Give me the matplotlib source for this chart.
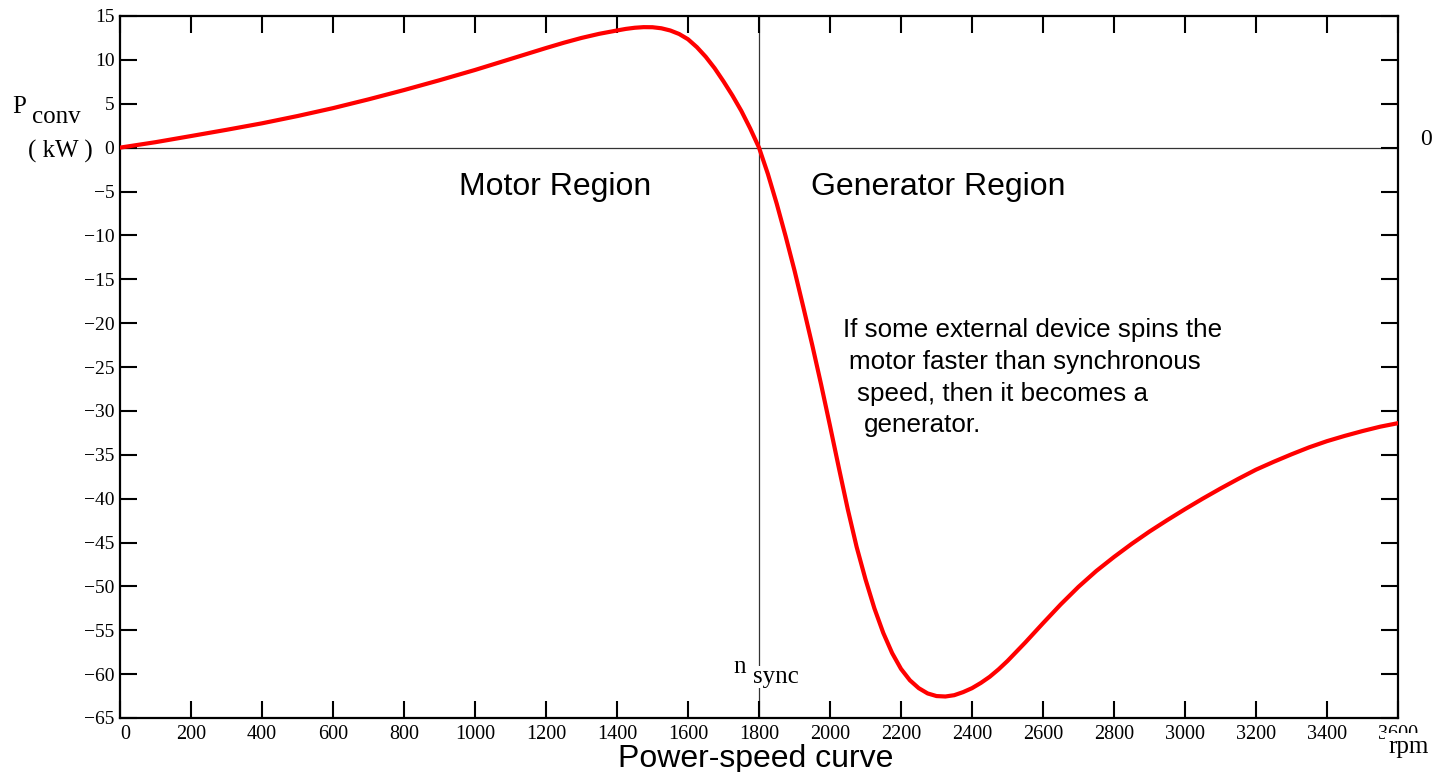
import matplotlib
matplotlib.use("Agg")
import matplotlib.pyplot as plt

# ---- data ----
speed_rpm = [0, 100, 200, 300, 400, 500, 600, 700, 800, 900, 1000, 1100, 1200,
             1250, 1300, 1350, 1400, 1425, 1450, 1475, 1500, 1525, 1550, 1575,
             1600, 1625, 1650, 1675, 1700, 1725, 1750, 1775, 1800, 1825, 1850,
             1875, 1900, 1925, 1950, 1975, 2000, 2025, 2050, 2075, 2100, 2125,
             2150, 2175, 2200, 2225, 2250, 2275, 2300, 2325, 2350, 2375, 2400,
             2425, 2450, 2475, 2500, 2550, 2600, 2650, 2700, 2750, 2800, 2850,
             2900, 2950, 3000, 3050, 3100, 3150, 3200, 3250, 3300, 3350, 3400,
             3450, 3500, 3550, 3600]
p_conv_kw = [0.0, 0.62, 1.32, 2.03, 2.77, 3.6, 4.5, 5.5, 6.56, 7.68, 8.85, 10.1,
             11.35, 11.95, 12.5, 12.97, 13.35, 13.53, 13.66, 13.73, 13.72, 13.6,
             13.35, 12.95, 12.35, 11.45, 10.35, 9.05, 7.55, 5.95, 4.2, 2.2, 0.0,
             -3.0, -6.4, -10.1, -14.0, -18.2, -22.5, -27.0, -31.7, -36.5, -41.2,
             -45.5, -49.2, -52.5, -55.3, -57.6, -59.4, -60.7, -61.6, -62.2, -62.5,
             -62.55, -62.4, -62.05, -61.6, -61.0, -60.3, -59.45, -58.5, -56.4,
             -54.2, -52.05, -50.05, -48.25, -46.65, -45.15, -43.75, -42.45, -41.2,
             -40.0, -38.85, -37.75, -36.7, -35.8, -34.95, -34.15, -33.45, -32.85,
             -32.3, -31.8, -31.4]

x_ticks = list(range(0, 3601, 200))
y_ticks = list(range(-65, 16, 5))
x_tick_labels = [str(v) for v in x_ticks]
y_tick_labels = [str(v).replace("-", "\u2212") for v in y_ticks]
n_sync = 1800

W, H = 1445, 772
SERIF = ["Liberation Serif", "DejaVu Serif"]
SANS = ["Liberation Sans", "DejaVu Sans"]


def fx(x):
    return x / W


def fy(y):
    return 1 - y / H


fig = plt.figure(figsize=(W / 100, H / 100), dpi=100)
ax = fig.add_axes([fx(120), fy(718), (1398 - 120) / W, (718 - 16) / H])

ax.set_xlim(0, 3600)
ax.set_ylim(-65, 15)

ax.axhline(0, color="#333333", lw=0.9, zorder=1)
ax.axvline(n_sync, color="#333333", lw=0.9, zorder=1)
ax.plot(speed_rpm, p_conv_kw, color="#ff0000", lw=3.0, zorder=3,
        solid_capstyle="round", solid_joinstyle="round")

ax.set_xticks(x_ticks)
ax.set_xticklabels(x_tick_labels, family=SERIF, fontsize=14.5)
ax.set_yticks(y_ticks)
ax.set_yticklabels(y_tick_labels, family=SERIF, fontsize=14)
ax.tick_params(axis="both", which="both", direction="in", length=12, width=1.5,
               top=True, right=True, color="black")
ax.tick_params(axis="x", pad=5)
ax.tick_params(axis="y", pad=4)
ax.get_xticklabels()[0].set_ha("left")
for s in ax.spines.values():
    s.set_linewidth(1.6)
    s.set_color("black")

# y-axis label pieces
fig.text(fx(12), fy(113), "P", family=SERIF, fontsize=18, va="baseline")
fig.text(fx(32), fy(123), "conv", family=SERIF, fontsize=18, va="baseline")
fig.text(fx(28), fy(158), "( kW )", family=SERIF, fontsize=18, va="baseline")

# right-side zero label
fig.text(fx(1420), fy(145), "0", family=SERIF, fontsize=17, va="baseline")

# n_sync label
fig.text(fx(733), fy(673), "n", family=SERIF, fontsize=18, va="baseline")
fig.text(fx(753), fy(683), "sync", family=SERIF, fontsize=18, va="baseline",
         bbox=dict(facecolor="white", edgecolor="none", pad=0), zorder=5)

# rpm unit label (covers the lower part of the last tick label, as in the reference)
fig.text(fx(1388), fy(753), "rpm", family=SERIF, fontsize=18, va="baseline",
         bbox=dict(facecolor="white", edgecolor="none", pad=2), zorder=5)

# region labels
fig.text(fx(459), fy(195), "Motor Region", family=SANS, fontsize=23, va="baseline")
fig.text(fx(811), fy(195), "Generator Region", family=SANS, fontsize=23, va="baseline")

# annotation
note_lines = ["If some external device spins the",
              "motor faster than synchronous",
              "speed, then it becomes a",
              "generator."]
note_x = [843, 849, 857, 864]
note_y = [337, 369, 401, 432]
for t, x, y in zip(note_lines, note_x, note_y):
    fig.text(fx(x), fy(y), t, family=SANS, fontsize=18.7, va="baseline")

# caption
fig.text(fx(756), fy(767), "Power-speed curve", family=SANS, fontsize=23,
         ha="center", va="baseline")

fig.savefig("out.png", dpi=100, facecolor="white")
